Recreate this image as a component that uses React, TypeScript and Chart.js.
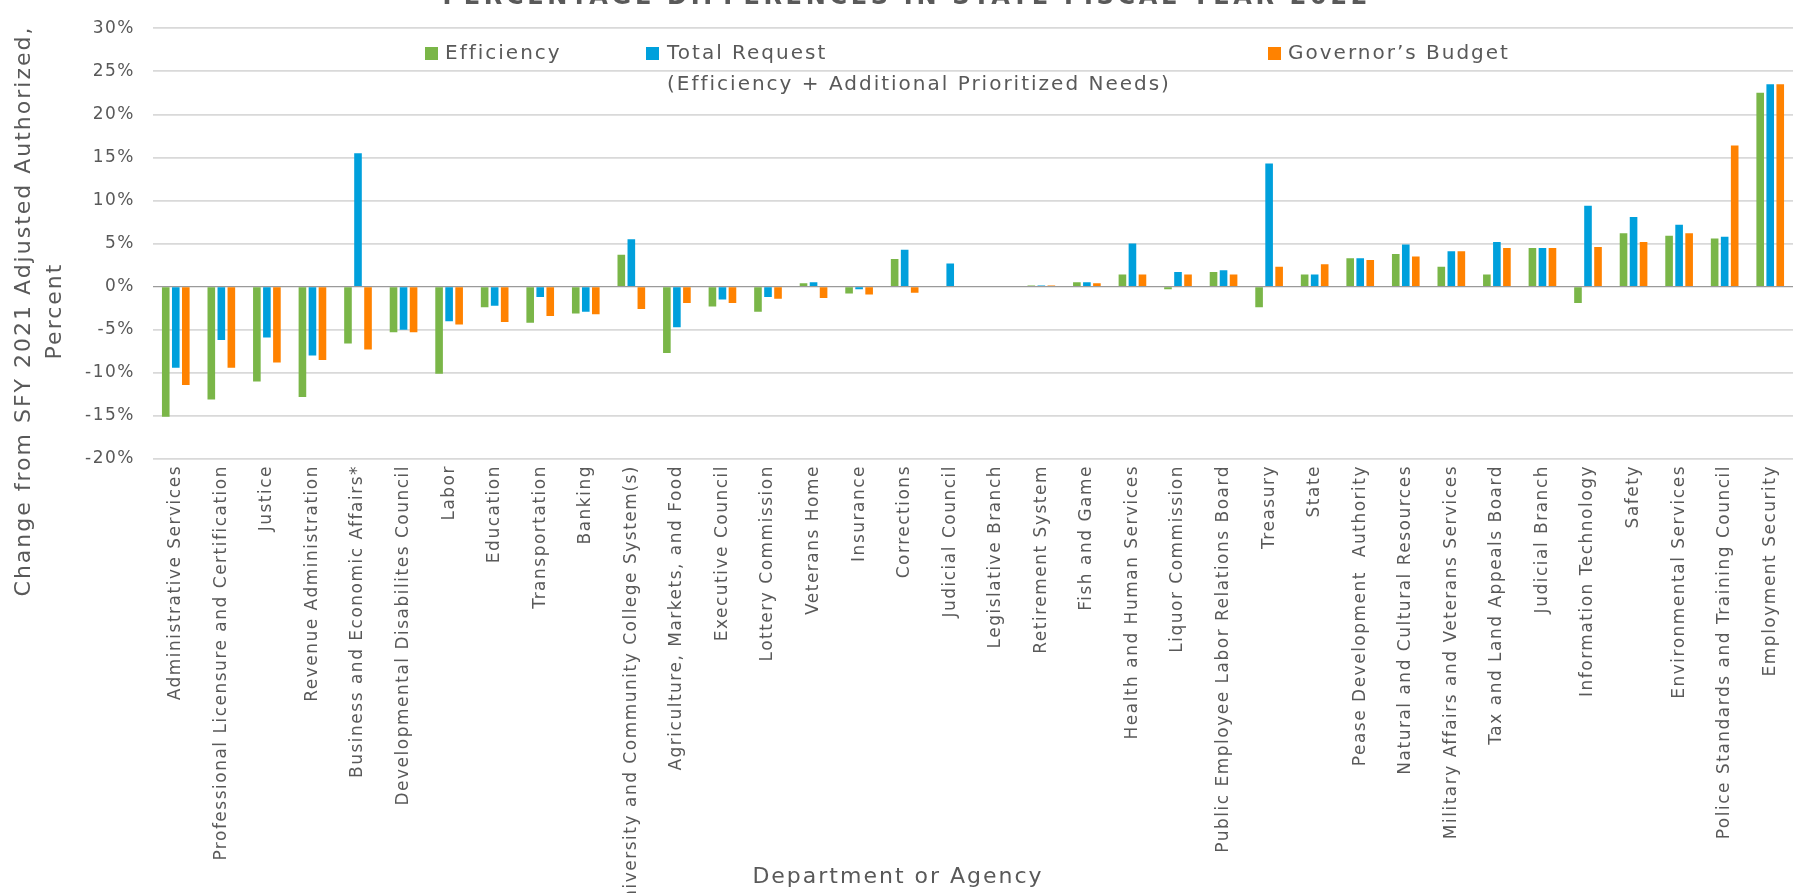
import React, { useEffect, useRef } from 'react';
import { Chart, registerables } from 'chart.js';

Chart.register(...registerables);

const departments = [
  'Administrative Services',
  'Professional Licensure and Certification',
  'Justice',
  'Revenue Administration',
  'Business and Economic Affairs*',
  'Developmental Disabilites Council',
  'Labor',
  'Education',
  'Transportation',
  'Banking',
  'University and Community College System(s)',
  'Agriculture, Markets, and Food',
  'Executive Council',
  'Lottery Commission',
  'Veterans Home',
  'Insurance',
  'Corrections',
  'Judicial Council',
  'Legislative Branch',
  'Retirement System',
  'Fish and Game',
  'Health and Human Services',
  'Liquor Commission',
  'Public Employee Labor Relations Board',
  'Treasury',
  'State',
  'Pease Development  Authority',
  'Natural and Cultural Resources',
  'Military Affairs and Veterans Services',
  'Tax and Land Appeals Board',
  'Judicial Branch',
  'Information Technology',
  'Safety',
  'Environmental Services',
  'Police Standards and Training Council',
  'Employment Security',
];

const efficiency = [
  -15.1, -13.1, -11.0, -12.8, -6.6, -5.3, -10.1, -2.4, -4.2, -3.1,
  3.7, -7.7, -2.3, -2.9, 0.4, -0.8, 3.2, 0, 0, 0.15,
  0.5, 1.4, -0.3, 1.7, -2.4, 1.4, 3.3, 3.8, 2.3, 1.4,
  4.5, -1.9, 6.2, 5.9, 5.6, 22.5,
];

const totalRequest = [
  -9.4, -6.2, -5.9, -8.0, 15.5, -5.0, -4.0, -2.2, -1.2, -2.9,
  5.5, -4.7, -1.5, -1.2, 0.5, -0.3, 4.3, 2.7, 0, 0.15,
  0.5, 5.0, 1.7, 1.9, 14.3, 1.4, 3.3, 4.9, 4.1, 5.2,
  4.5, 9.4, 8.1, 7.2, 5.8, 23.5,
];

const governorsBudget = [
  -11.4, -9.4, -8.8, -8.5, -7.3, -5.3, -4.4, -4.1, -3.4, -3.2,
  -2.6, -1.9, -1.9, -1.4, -1.3, -0.9, -0.7, 0, 0, 0.15,
  0.4, 1.4, 1.4, 1.4, 2.3, 2.6, 3.1, 3.5, 4.1, 4.5,
  4.5, 4.6, 5.2, 6.2, 16.4, 23.5,
];

const seriesNames = ['Efficiency', 'Total Request', 'Governor’s Budget'];
const legendSubLine = '(Efficiency + Additional Prioritized Needs)';
const seriesColors = ['#7AB648', '#00A0DC', '#FF8200'];

const yMin = -20;
const yMax = 30;
const yStep = 5;

const chartTitle = 'PERCENTAGE DIFFERENCES IN STATE FISCAL YEAR 2022';
const yTitleLines = ['Change from SFY 2021 Adjusted Authorized,', 'Percent'];
const xTitle = 'Department or Agency';

const FONT = '"DejaVu Sans", "Noto Sans", sans-serif';
const TEXT = '#595959';
const TICK_SPACING = '1.5px';

const decorPlugin = {
  id: 'decor',
  beforeUpdate(chart: any) {
    chart.ctx.letterSpacing = TICK_SPACING;
  },
  beforeDraw(chart: any) {
    chart.ctx.letterSpacing = TICK_SPACING;
  },
  afterDraw(chart: any) {
    const ctx = chart.ctx as CanvasRenderingContext2D & { letterSpacing: string };
    ctx.save();
    ctx.fillStyle = TEXT;

    // Title (cut off at the top of the picture)
    ctx.font = `bold 24px ${FONT}`;
    ctx.letterSpacing = '0px';
    const w0 = ctx.measureText(chartTitle).width;
    const target = 925;
    const ls = (target - w0) / (chartTitle.length - 1);
    ctx.letterSpacing = `${ls}px`;
    ctx.textAlign = 'left';
    ctx.textBaseline = 'alphabetic';
    ctx.fillText(chartTitle, 905 - target / 2, 4);

    // Legend
    ctx.font = `20px ${FONT}`;
    ctx.letterSpacing = '2px';
    ctx.textBaseline = 'middle';
    ctx.textAlign = 'left';
    const boxX = [425, 646, 1268];
    const textX = [445, 667, 1288];
    for (let i = 0; i < 3; i++) {
      ctx.fillStyle = seriesColors[i];
      ctx.fillRect(boxX[i], 47, 13, 13);
      ctx.fillStyle = TEXT;
      ctx.fillText(seriesNames[i], textX[i], 54);
    }
    ctx.fillText(legendSubLine, textX[1], 85);

    // Y axis title
    ctx.font = `22px ${FONT}`;
    ctx.letterSpacing = '2px';
    ctx.textAlign = 'center';
    ctx.textBaseline = 'middle';
    ctx.save();
    ctx.translate(24, 311);
    ctx.rotate(-Math.PI / 2);
    ctx.fillText(yTitleLines[0], 0, 0);
    ctx.restore();
    ctx.save();
    ctx.translate(55, 311);
    ctx.rotate(-Math.PI / 2);
    ctx.fillText(yTitleLines[1], 0, 0);
    ctx.restore();

    // X axis title
    ctx.fillText(xTitle, 898, 877);

    ctx.restore();
    ctx.letterSpacing = TICK_SPACING;
  },
};

export default function App() {
  const canvasRef = useRef<HTMLCanvasElement | null>(null);

  useEffect(() => {
    document.body.style.margin = '0';
    const canvas = canvasRef.current;
    if (!canvas) return;
    const chart = new Chart(canvas, {
      type: 'bar',
      data: {
        labels: departments,
        datasets: [
          { label: seriesNames[0], data: efficiency, backgroundColor: seriesColors[0] },
          { label: seriesNames[1], data: totalRequest, backgroundColor: seriesColors[1] },
          { label: seriesNames[2], data: governorsBudget, backgroundColor: seriesColors[2] },
        ],
      },
      options: {
        responsive: false,
        maintainAspectRatio: false,
        devicePixelRatio: 1,
        animation: false,
        layout: { padding: { top: 25, right: 10, left: 0, bottom: 0 } },
        datasets: {
          bar: { categoryPercentage: 0.66, barPercentage: 0.76 },
        },
        plugins: {
          legend: { display: false },
          title: { display: false },
          tooltip: { enabled: false },
        },
        scales: {
          x: {
            grid: { display: false, drawTicks: false },
            border: { display: false },
            ticks: {
              autoSkip: false,
              maxRotation: 90,
              minRotation: 90,
              padding: 6,
              color: TEXT,
              font: { family: FONT, size: 17 },
            },
            afterFit(scale: any) {
              scale.height = 434;
            },
          },
          y: {
            min: yMin,
            max: yMax,
            ticks: {
              stepSize: yStep,
              padding: 18,
              color: TEXT,
              font: { family: FONT, size: 17 },
              callback: (v: any) => `${v}%`,
            },
            grid: {
              drawTicks: false,
              color: (c: any) => (c.tick && c.tick.value === 0 ? '#9a9a9a' : '#d9d9d9'),
              lineWidth: (c: any) => (c.tick && c.tick.value === 0 ? 1.3 : 1.7),
            },
            border: { display: false },
            afterFit(scale: any) {
              scale.width = 153;
            },
          },
        },
      },
      plugins: [decorPlugin],
    });
    return () => chart.destroy();
  }, []);

  return (
    <canvas
      ref={canvasRef}
      width={1803}
      height={893}
      style={{ display: 'block', width: 1803, height: 893 }}
    />
  );
}
